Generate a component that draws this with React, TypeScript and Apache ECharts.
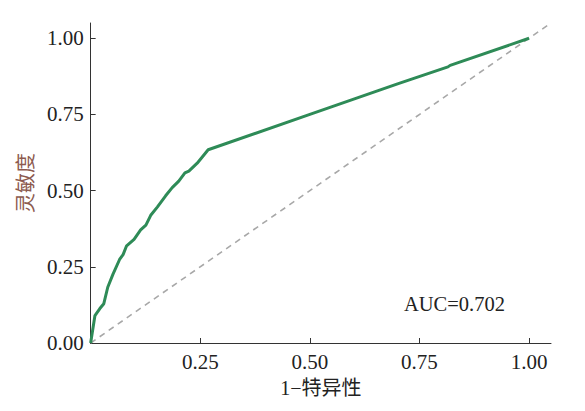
import React, { useEffect, useRef } from "react";
import * as echarts from "echarts";

const fpr = [0, 0.0098, 0.021, 0.030, 0.039, 0.051, 0.066, 0.074, 0.082, 0.099, 0.114, 0.126, 0.137, 0.152, 0.171, 0.186, 0.201, 0.215, 0.224, 0.243, 0.268, 0.5, 0.7, 0.815, 0.82, 1.0];
const tpr = [0, 0.090, 0.113, 0.129, 0.183, 0.226, 0.274, 0.290, 0.319, 0.340, 0.371, 0.387, 0.419, 0.446, 0.483, 0.510, 0.531, 0.558, 0.564, 0.590, 0.634, 0.750, 0.850, 0.906, 0.911, 1.0];
const refLine = [0, 1.05];
const xTicks = [0.25, 0.5, 0.75, 1.0];
const yTicks = [0, 0.25, 0.5, 0.75, 1.0];
const aucText = "AUC=0.702";

const serif = "'Liberation Serif', 'Times New Roman', 'Noto Sans CJK SC', serif";

export default function App() {
  const ref = useRef<HTMLDivElement>(null);
  useEffect(() => {
    if (!ref.current) return;
    const chart = echarts.init(ref.current, undefined, { renderer: "svg" });
    chart.setOption({
      animation: false,
      backgroundColor: "#ffffff",
      title: {
        text: aucText,
        left: 391,
        top: 281,
        textStyle: { fontFamily: serif, fontSize: 20.5, fontWeight: "normal", color: "#222" },
      },
      grid: { left: 80, right: 26, top: 15, bottom: 55, containLabel: false },
      xAxis: {
        type: "value",
        min: 0,
        max: 1.05,
        name: "1\u2212特异性",
        nameLocation: "middle",
        nameGap: 35,
        nameTextStyle: { fontFamily: serif, fontSize: 20, color: "#222" },
        axisLine: { show: true, lineStyle: { color: "#333", width: 1 } },
        axisTick: { show: true, inside: true, length: 5, customValues: xTicks, lineStyle: { color: "#333" } },
        axisLabel: {
          customValues: xTicks,
          formatter: (v: number) => v.toFixed(2),
          fontFamily: serif,
          fontSize: 21,
          color: "#222",
          margin: 8,
        },
        splitLine: { show: false },
      },
      yAxis: {
        type: "value",
        min: 0,
        max: 1.05,
        name: "灵敏度",
        nameLocation: "middle",
        nameGap: 51,
        nameTextStyle: { fontFamily: serif, fontSize: 20, color: "#8c5a4e" },
        axisLine: { show: true, lineStyle: { color: "#333", width: 1 } },
        axisTick: { show: true, inside: true, length: 5, customValues: yTicks, lineStyle: { color: "#333" } },
        axisLabel: {
          customValues: yTicks,
          formatter: (v: number) => v.toFixed(2),
          fontFamily: serif,
          fontSize: 21,
          color: "#222",
          margin: 7,
        },
        splitLine: { show: false },
      },
      series: [
        {
          type: "line",
          data: refLine.map((v) => [v, v]),
          showSymbol: false,
          lineStyle: { color: "#a8a8a8", width: 1.6, type: [6, 5] },
          z: 1,
        },
        {
          type: "line",
          data: fpr.map((x, i) => [x, tpr[i]]),
          showSymbol: false,
          lineStyle: { color: "#2e8b57", width: 3 },
          z: 2,
        },
      ],
    });
    return () => chart.dispose();
  }, []);
  return <div ref={ref} style={{ width: 569, height: 395 }} />;
}
